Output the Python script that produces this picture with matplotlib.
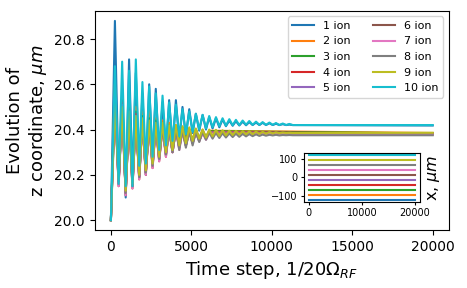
import numpy as np
import matplotlib
matplotlib.use("Agg")
import matplotlib.pyplot as plt

# extrema times (time steps), shared by all ions
t_ext = [0, 250, 480, 700, 920, 1130, 1340, 1550, 1760, 1960,
         2170, 2380, 2590, 2790, 3000, 3210, 3420, 3620, 3830, 4040,
         4250, 4450, 4660, 4870, 5080, 5280, 5490, 5700, 5910, 6110,
         6320, 6530, 6740, 6940, 7150, 7360, 7570, 7770, 7980, 8190,
         8400, 8600, 8810, 9020, 9230, 9430, 9640, 9850, 10060, 10260,
         10470, 10680, 10890, 11090, 11300]
t_end = 20000

# z coordinate at the extrema, per ion (um)
z_ion1 = [20.00, 20.88, 20.17, 20.56, 20.10, 20.71, 20.18, 20.65, 20.22, 20.56,
          20.20, 20.60, 20.26, 20.58, 20.29, 20.52, 20.30, 20.53, 20.32, 20.53,
          20.35, 20.50, 20.37, 20.49, 20.385, 20.47, 20.395, 20.465, 20.40, 20.455,
          20.405, 20.45, 20.41, 20.445, 20.415, 20.44, 20.417, 20.437, 20.418, 20.435,
          20.419, 20.433, 20.42, 20.431, 20.42, 20.43, 20.42, 20.428, 20.42, 20.426,
          20.42, 20.424, 20.42, 20.422, 20.42]
z_ion2 = [20.00, 20.60, 20.17, 20.55, 20.13, 20.52, 20.16, 20.50, 20.20, 20.48,
          20.22, 20.50, 20.25, 20.45, 20.28, 20.44, 20.30, 20.43, 20.32, 20.42,
          20.33, 20.41, 20.34, 20.405, 20.35, 20.40, 20.36, 20.40, 20.365, 20.395]
z_ion3 = [20.00, 20.58, 20.16, 20.53, 20.12, 20.50, 20.16, 20.48, 20.19, 20.46,
          20.21, 20.45, 20.25, 20.44, 20.28, 20.43, 20.30, 20.42, 20.31, 20.415,
          20.33, 20.41, 20.34, 20.40, 20.35, 20.40, 20.36, 20.395, 20.365, 20.393]
z_ion4 = [20.00, 20.56, 20.15, 20.52, 20.11, 20.49, 20.14, 20.47, 20.18, 20.45,
          20.20, 20.44, 20.23, 20.43, 20.26, 20.42, 20.28, 20.41, 20.30, 20.41,
          20.32, 20.40, 20.33, 20.40, 20.34, 20.395, 20.35, 20.39, 20.36, 20.39]
z_ion5 = [20.00, 20.55, 20.16, 20.51, 20.12, 20.48, 20.15, 20.46, 20.19, 20.44,
          20.21, 20.43, 20.24, 20.42, 20.27, 20.41, 20.29, 20.41, 20.30, 20.40,
          20.32, 20.40, 20.33, 20.395, 20.34, 20.39, 20.35, 20.39, 20.36, 20.388]
z_ion6 = [20.00, 20.54, 20.16, 20.50, 20.12, 20.47, 20.15, 20.45, 20.19, 20.44,
          20.21, 20.43, 20.24, 20.42, 20.27, 20.41, 20.29, 20.40, 20.30, 20.40,
          20.32, 20.395, 20.33, 20.39, 20.34, 20.39, 20.35, 20.387, 20.36, 20.385]
z_ion7 = [20.00, 20.53, 20.15, 20.49, 20.11, 20.47, 20.14, 20.45, 20.18, 20.43,
          20.20, 20.42, 20.23, 20.41, 20.26, 20.41, 20.28, 20.40, 20.30, 20.40,
          20.31, 20.395, 20.33, 20.39, 20.34, 20.387, 20.35, 20.385, 20.355, 20.383]
z_ion8 = [20.00, 20.50, 20.17, 20.48, 20.12, 20.46, 20.15, 20.44, 20.19, 20.43,
          20.21, 20.42, 20.24, 20.41, 20.27, 20.41, 20.29, 20.40, 20.30, 20.40,
          20.31, 20.40, 20.32, 20.395, 20.33, 20.39, 20.345, 20.39, 20.355, 20.387,
          20.36, 20.385, 20.363, 20.384, 20.365, 20.383, 20.367, 20.382, 20.368, 20.381,
          20.37, 20.38, 20.371, 20.379, 20.372, 20.378, 20.373, 20.377, 20.374, 20.377,
          20.374, 20.376, 20.375, 20.376, 20.375]
z_ion9 = [20.00, 20.52, 20.18, 20.50, 20.13, 20.48, 20.16, 20.46, 20.20, 20.45,
          20.22, 20.44, 20.25, 20.43, 20.28, 20.43, 20.30, 20.42, 20.31, 20.42,
          20.33, 20.415, 20.34, 20.41, 20.35, 20.405, 20.36, 20.40, 20.365, 20.40,
          20.37, 20.399, 20.372, 20.397, 20.374, 20.395, 20.376, 20.394, 20.378, 20.393,
          20.379, 20.392, 20.38, 20.391, 20.381, 20.39, 20.382, 20.389, 20.383, 20.388,
          20.384, 20.387, 20.385, 20.386, 20.385]
z_ion10 = [20.00, 20.68, 20.16, 20.70, 20.15, 20.66, 20.15, 20.71, 20.24, 20.61,
           20.25, 20.59, 20.28, 20.56, 20.31, 20.55, 20.33, 20.52, 20.35, 20.51,
           20.37, 20.49, 20.38, 20.48, 20.39, 20.47, 20.40, 20.465, 20.405, 20.46,
           20.41, 20.455, 20.415, 20.45, 20.417, 20.446, 20.419, 20.443, 20.42, 20.44,
           20.421, 20.438, 20.421, 20.435, 20.421, 20.433, 20.421, 20.431, 20.421, 20.429,
           20.42, 20.427, 20.42, 20.425, 20.42]
z_final = [20.418, 20.385, 20.383, 20.381, 20.38, 20.378, 20.377, 20.375, 20.386, 20.42]

# x coordinate of each ion (inset), um
x_ion = [-120, -94, -67, -40, -13, 14, 41, 68, 94, 120]

labels = ["%d ion" % (i + 1) for i in range(10)]
z_all = [z_ion1, z_ion2, z_ion3, z_ion4, z_ion5, z_ion6, z_ion7, z_ion8, z_ion9, z_ion10]

fig, ax = plt.subplots(figsize=(4.67, 2.88), dpi=100)
fig.subplots_adjust(left=0.203, right=0.961, bottom=0.201, top=0.962)

for i in range(10):
    z = z_all[i]
    t = t_ext[:len(z)] + [t_end]
    ax.plot(t, z + [z_final[i]], label=labels[i], lw=1.5)

ax.set_xlabel("Time step, 1/20$\\Omega_{RF}$", fontsize=13)
ax.set_ylabel("Evolution of\nz coordinate, $\\mu m$", fontsize=13)
ax.tick_params(labelsize=10)
ax.set_yticks([20.0, 20.2, 20.4, 20.6, 20.8])
ax.legend(loc="upper right", ncol=2, fontsize=8)

# inset with x coordinates
axin = fig.add_axes([0.650, 0.299, 0.250, 0.170])
for i in range(10):
    axin.plot([0, t_end], [x_ion[i], x_ion[i]], lw=1.5)
axin.set_yticks([-100, 0, 100])
axin.set_xticks([0, 10000, 20000])
axin.tick_params(labelsize=7, pad=2, length=2.5)
axin.yaxis.set_label_position("right")
axin.set_ylabel("x, $\\mu m$", fontsize=11.5)

plt.savefig("out.png", dpi=100)
